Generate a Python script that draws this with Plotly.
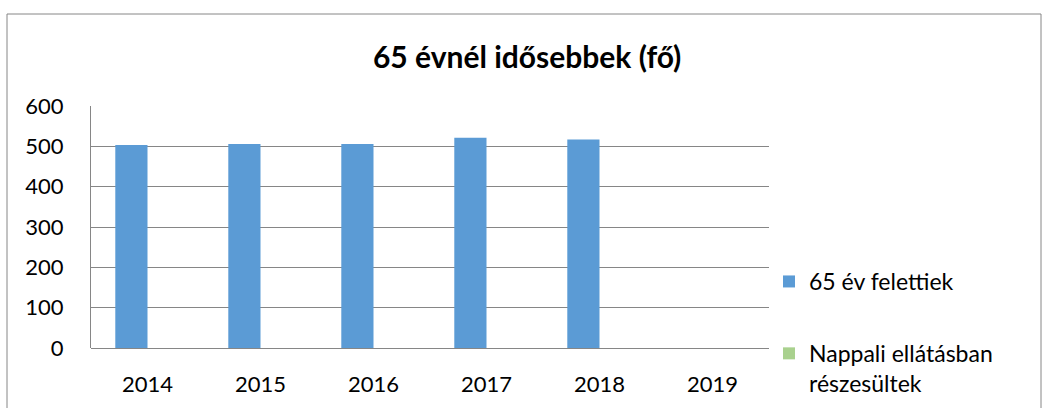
import plotly.graph_objects as go

years = ["2014", "2015", "2016", "2017", "2018", "2019"]
over65 = [503, 506, 506, 521, 517, None]
daycare = [None, None, None, None, None, None]
series_names = ["65 év felettiek", "Nappali ellátásban<br>részesültek"]
title_text = "65 évnél idősebbek (fő)"
y_ticks = [0, 100, 200, 300, 400, 500, 600]

FONT = "Lato, Open Sans, sans-serif"
GRID = "#868686"

fig = go.Figure()
fig.add_trace(go.Bar(x=years, y=over65, name=series_names[0],
                     marker=dict(color="#5B9BD5", line=dict(width=0)),
                     legendgroup="a"))
fig.add_trace(go.Bar(x=years, y=daycare, name=series_names[1],
                     marker=dict(color="#A9D18E", line=dict(width=0)),
                     legendgroup="b"))

fig.update_layout(
    width=1048, height=408,
    margin=dict(l=91, r=279, t=106, b=60, autoexpand=False),
    paper_bgcolor="white", plot_bgcolor="white",
    font=dict(family=FONT, size=22, color="#000000"),
    barmode="group", bargap=0.43, bargroupgap=0,
    title=dict(text="<b>" + title_text + "</b>", x=0.503, xanchor="center",
               y=1 - 57 / 408, yanchor="middle",
               font=dict(family=FONT, size=30, color="#000000")),
    showlegend=True,
    legend=dict(x=1.0, xanchor="left", y=(348 - 260) / 242, yanchor="top",
                traceorder="grouped", tracegroupgap=39, valign="top",
                font=dict(family=FONT, size=23, color="#000000"),
                bgcolor="rgba(0,0,0,0)", itemwidth=30),
    xaxis=dict(type="category", showgrid=False, showline=False, ticks="",
               ticklabelstandoff=21, zeroline=False, automargin=False),
    yaxis=dict(range=[0, 600], tickvals=y_ticks, showgrid=True, gridcolor=GRID,
               gridwidth=1, showline=True, linecolor=GRID, linewidth=1,
               ticks="", ticklabelstandoff=22, zeroline=True,
               zerolinecolor=GRID, zerolinewidth=1, automargin=False),
)

# outer chart border
fig.add_shape(type="rect", xref="paper", yref="paper",
              x0=(7 - 91) / 678, x1=(1041 - 91) / 678,
              y0=(348 - 412) / 242, y1=(348 - 14) / 242,
              line=dict(color=GRID, width=1), fillcolor="rgba(0,0,0,0)",
              layer="below")

fig.write_html(
    "out.html",
    config={"displayModeBar": False},
    post_script="document.body.style.margin='0';document.body.style.overflow='hidden';",
)
